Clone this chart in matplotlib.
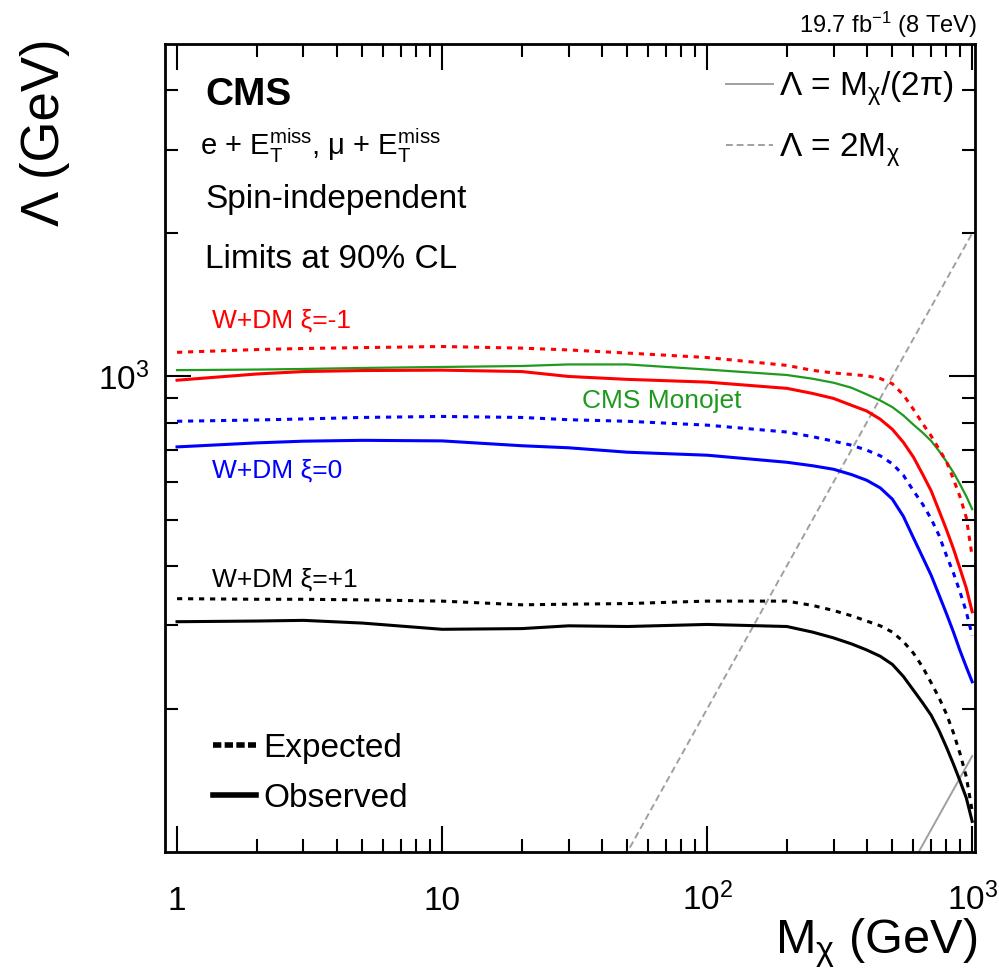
import matplotlib
matplotlib.use("Agg")
import matplotlib.pyplot as plt
from matplotlib.lines import Line2D
from matplotlib.ticker import NullFormatter

plt.rcParams['font.family'] = ['Liberation Sans', 'DejaVu Sans']
plt.rcParams['mathtext.fontset'] = 'custom'
plt.rcParams['mathtext.rm'] = 'Liberation Sans'
plt.rcParams['mathtext.it'] = 'Liberation Sans:italic'
plt.rcParams['mathtext.bf'] = 'Liberation Sans:bold'

# ============================
# DATA
# ============================
mchi = [1, 2, 3, 5, 10, 20, 30, 50, 100, 200, 250, 300, 350, 400, 450, 500,
        550, 600, 650, 700, 750, 800, 850, 900, 950, 1000]

xim1_exp = [1124, 1139, 1145, 1150, 1156, 1147, 1137, 1120, 1096, 1055, 1030, 1017, 1010,
            1003, 990, 965, 915, 853, 796, 750, 703, 662, 608, 558, 505, 418]
xim1_obs = [982, 1012, 1024, 1029, 1031, 1024, 1000, 986, 973, 944, 921, 899, 870,
            846, 813, 774, 727, 677, 623, 575, 522, 476, 434, 394, 359, 320]
monojet = [1031, 1034, 1037, 1042, 1047, 1052, 1060, 1060, 1034, 1007, 989, 970, 947,
           917, 890, 862, 828, 792, 762, 732, 697, 662, 628, 593, 560, 526]
xi0_exp = [805, 810, 814, 820, 824, 820, 811, 805, 790, 764, 747, 731, 717,
           700, 681, 655, 620, 575, 539, 502, 463, 420, 386, 352, 320, 285]
xi0_obs = [711, 725, 731, 734, 732, 715, 708, 693, 683, 660, 649, 638, 622,
           605, 583, 552, 508, 458, 417, 382, 347, 317, 290, 265, 245, 228]
xip1_exp = [341, 340, 340, 339, 337, 331, 332, 333, 337, 337, 330, 322, 314,
            306, 299, 290, 277, 262, 245, 227, 211, 195, 178, 161, 144, 122]
xip1_obs = [305, 306, 307, 303, 294, 295, 299, 298, 301, 298, 290, 282, 274,
            266, 258, 248, 234, 219, 206, 194, 180, 166, 153, 141, 130, 116]

# reference lines Lambda = 2 M and Lambda = M / (2 pi)
ref_m = [10, 1000]
ref_2m = [20, 2000]
ref_2pi = [1.59, 159.2]

DOT = (1.7, 1.9)

# ============================
# FIGURE
# ============================
fig = plt.figure(figsize=(9.99, 9.68), dpi=100)
ax = fig.add_axes([0.1652, 0.1198, 0.8108, 0.8347])

l_2pi, = ax.plot(ref_m, ref_2pi, color='#a0a0a0', lw=1.4)
l_2m, = ax.plot(ref_m, ref_2m, color='#a0a0a0', lw=1.4, dashes=(3.5, 2))

ax.plot(mchi, monojet, color='#1f9a1f', lw=1.6)
ax.plot(mchi, xim1_exp, color='red', lw=2.2, dashes=DOT)
ax.plot(mchi, xim1_obs, color='red', lw=2.2)
ax.plot(mchi, xi0_exp, color='blue', lw=2.2, dashes=DOT)
ax.plot(mchi, xi0_obs, color='blue', lw=2.2)
ax.plot(mchi, xip1_exp, color='black', lw=2.2, dashes=DOT)
ax.plot(mchi, xip1_obs, color='black', lw=2.2)

ax.set_xscale('log')
ax.set_yscale('log')
ax.set_xlim(0.901, 1025)
ax.set_ylim(100, 5000)

ax.set_xticks([1, 10, 100, 1000])
ax.set_xticklabels(['1', '10', '$10^2$', '$10^3$'])
ax.set_xticks([m * d for d in (1, 10, 100) for m in range(2, 10)], minor=True)
ax.set_yticks([1000])
ax.set_yticklabels(['$10^3$'])
ax.set_yticks([200, 300, 400, 500, 600, 700, 800, 900, 2000, 3000, 4000], minor=True)
ax.xaxis.set_minor_formatter(NullFormatter())
ax.yaxis.set_minor_formatter(NullFormatter())

ax.tick_params(which='both', direction='in', top=True, right=True, width=1.5, labelsize=24)
ax.tick_params(which='major', length=19)
ax.tick_params(which='minor', length=9.5)
ax.tick_params(axis='x', which='major', pad=42)
ax.tick_params(axis='y', which='major', pad=11)
for t in ax.xaxis.get_major_ticks():
    t.label1.set_va('baseline')
for s in ax.spines.values():
    s.set_linewidth(2)

# axis titles
fig.text(977 / 999, 1 - 953 / 968, r'M$_{\mathrm{χ}}$ (GeV)', fontsize=35, ha='right', va='baseline')
fig.text(45 / 999, 1 - 38 / 968, 'Λ (GeV)', fontsize=38, rotation=90, ha='center', va='top')
fig.text(977 / 999, 1 - 33 / 968, r'19.7 fb$^{-1}$ (8 TeV)', fontsize=17, ha='right', va='baseline')

# texts
ax.text(0.0494, 0.9245, 'CMS', fontsize=28, fontweight='bold', transform=ax.transAxes)
ax.text(0.0432, 0.8626, r'e + $\mathrm{E}_{\mathrm{T}}^{\mathrm{miss}}$, μ + $\mathrm{E}_{\mathrm{T}}^{\mathrm{miss}}$',
        fontsize=21, transform=ax.transAxes)
ax.text(0.0494, 0.797, 'Spin-independent', fontsize=24, transform=ax.transAxes)
ax.text(0.0494, 0.7228, 'Limits at 90% CL', fontsize=24, transform=ax.transAxes)

ax.text(0.058, 0.6485, 'W+DM ξ=-1', fontsize=19, color='red', transform=ax.transAxes)
ax.text(0.5148, 0.5495, 'CMS Monojet', fontsize=19, color='#1f9a1f', transform=ax.transAxes)
ax.text(0.058, 0.464, 'W+DM ξ=0', fontsize=19, color='blue', transform=ax.transAxes)
ax.text(0.058, 0.328, 'W+DM ξ=+1', fontsize=19, color='black', transform=ax.transAxes)

# legends
leg1 = ax.legend([l_2pi, l_2m], [r'Λ = M$_{\mathrm{χ}}$/(2π)', r'Λ = 2M$_{\mathrm{χ}}$'],
                 loc='upper left', bbox_to_anchor=(0.6926, 0.969), frameon=False, fontsize=24,
                 handlelength=1.4, handletextpad=0.2, labelspacing=0.72, borderpad=0, borderaxespad=0)
ax.add_artist(leg1)

h_exp = Line2D([], [], color='black', lw=4, dashes=(1.5, 0.6))
h_obs = Line2D([], [], color='black', lw=4)
ax.legend([h_exp, h_obs], ['Expected', 'Observed'], loc='upper left', bbox_to_anchor=(0.0593, 0.1475),
          frameon=False, fontsize=24, handlelength=1.3, handletextpad=0.2, labelspacing=0.57,
          borderpad=0, borderaxespad=0)

fig.savefig('out.png', dpi=100)
